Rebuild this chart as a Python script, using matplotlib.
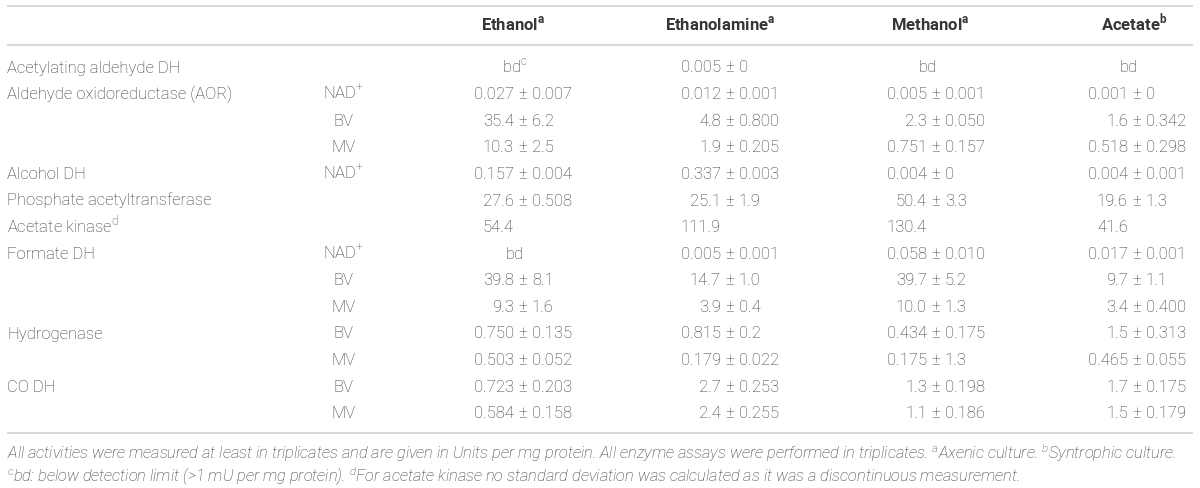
import matplotlib
matplotlib.use("Agg")
import matplotlib.pyplot as plt

# Table content
headers = ["Ethanol", "Ethanolamine", "Methanol", "Acetate"]
header_sup = ["a", "a", "a", "b"]

enzymes = ["Acetylating aldehyde DH", "Aldehyde oxidoreductase (AOR)", "", "",
           "Alcohol DH", "Phosphate acetyltransferase", "Acetate kinase", "Formate DH",
           "", "", "Hydrogenase", "", "CO DH", ""]
enzyme_sup = ["", "", "", "", "", "", "d", "", "", "", "", "", "", ""]
acceptors = ["", "NAD+", "BV", "MV", "NAD+", "", "", "NAD+", "BV", "MV", "BV", "MV", "BV", "MV"]

ethanol = ["bd", "0.027 ± 0.007", "35.4 ± 6.2", "10.3 ± 2.5", "0.157 ± 0.004",
           "27.6 ± 0.508", "54.4", "bd", "39.8 ± 8.1", "9.3 ± 1.6",
           "0.750 ± 0.135", "0.503 ± 0.052", "0.723 ± 0.203", "0.584 ± 0.158"]
ethanolamine = ["0.005 ± 0", "0.012 ± 0.001", "4.8 ± 0.800", "1.9 ± 0.205", "0.337 ± 0.003",
                "25.1 ± 1.9", "111.9", "0.005 ± 0.001", "14.7 ± 1.0", "3.9 ± 0.4",
                "0.815 ± 0.2", "0.179 ± 0.022", "2.7 ± 0.253", "2.4 ± 0.255"]
methanol = ["bd", "0.005 ± 0.001", "2.3 ± 0.050", "0.751 ± 0.157", "0.004 ± 0",
            "50.4 ± 3.3", "130.4", "0.058 ± 0.010", "39.7 ± 5.2", "10.0 ± 1.3",
            "0.434 ± 0.175", "0.175 ± 1.3", "1.3 ± 0.198", "1.1 ± 0.186"]
acetate = ["bd", "0.001 ± 0", "1.6 ± 0.342", "0.518 ± 0.298", "0.004 ± 0.001",
           "19.6 ± 1.3", "41.6", "0.017 ± 0.001", "9.7 ± 1.1", "3.4 ± 0.400",
           "1.5 ± 0.313", "0.465 ± 0.055", "1.7 ± 0.175", "1.5 ± 0.179"]
columns = [ethanol, ethanolamine, methanol, acetate]
cell_sup = {(0, 0): "c"}

footnote1 = ("All activities were measured at least in triplicates and are given in Units per mg protein. "
             "All enzyme assays were performed in triplicates. $^{\\mathdefault{a}}$Axenic culture. "
             "$^{\\mathdefault{b}}$Syntrophic culture.")
footnote2 = ("$^{\\mathdefault{c}}$bd: below detection limit (>1 mU per mg protein). "
             "$^{\\mathdefault{d}}$For acetate kinase no standard deviation was calculated "
             "as it was a discontinuous measurement.")

plt.rcParams['font.family'] = ['Roboto', 'DejaVu Sans']
txt = '#363636'
line_c = '#d9d9d9'
fs = 12

fig = plt.figure(figsize=(12, 4.88), dpi=100)
ax = fig.add_axes([0, 0, 1, 1])
ax.set_xlim(0, 1200)
ax.set_ylim(488, 0)
ax.axis('off')

# horizontal rules
for y in [6, 45, 433]:
    ax.plot([7, 1193], [y, y], color=line_c, lw=1.5, solid_capstyle='butt')

def sup(s):
    return "$^{\\mathdefault{" + s + "}}$" if s else ""

def cell(x, y, s, ha, **kw):
    # y is the visual middle of the capitals, text sits on its baseline
    ax.text(x, y + 5.5, s, ha=ha, va='baseline', fontsize=fs, color=txt, **kw)

# header
header_x = [513, 720, 930, 1134]
for hx, h, s in zip(header_x, headers, header_sup):
    cell(hx, 25, h + sup(s), 'center', fontweight='bold')

pm_x = [523, 730, 936, 1137]
row_y = [67 + i * 26.6 for i in range(len(enzymes))]

for i, y in enumerate(row_y):
    if enzymes[i]:
        cell(7, y, enzymes[i] + sup(enzyme_sup[i]), 'left', fontweight='light')
    if acceptors[i]:
        lab = acceptors[i]
        if lab.endswith('+'):
            lab = lab[:-1] + sup('+')
        cell(343, y, lab, 'center', fontweight='light')
    for j, col in enumerate(columns):
        val = col[i]
        px = pm_x[j]
        if val == 'bd':
            cell(px - 8, y, 'bd' + sup(cell_sup.get((i, j), '')), 'center', fontweight='light')
        elif '±' in val:
            left, right = val.split(' ± ')
            cell(px - 9, y, left, 'right', fontweight='light')
            cell(px, y, '±', 'center', fontweight='light')
            cell(px + 9, y, right, 'left', fontweight='light')
        else:
            cell(px - 9, y, val, 'right', fontweight='light')

ax.text(7, 459, footnote1, ha='left', va='baseline', fontsize=11.8,
        fontstyle='italic', fontweight='light', color=txt)
ax.text(7, 482, footnote2, ha='left', va='baseline', fontsize=11.8,
        fontstyle='italic', fontweight='light', color=txt)

fig.savefig('out.png', dpi=100, facecolor='white')
